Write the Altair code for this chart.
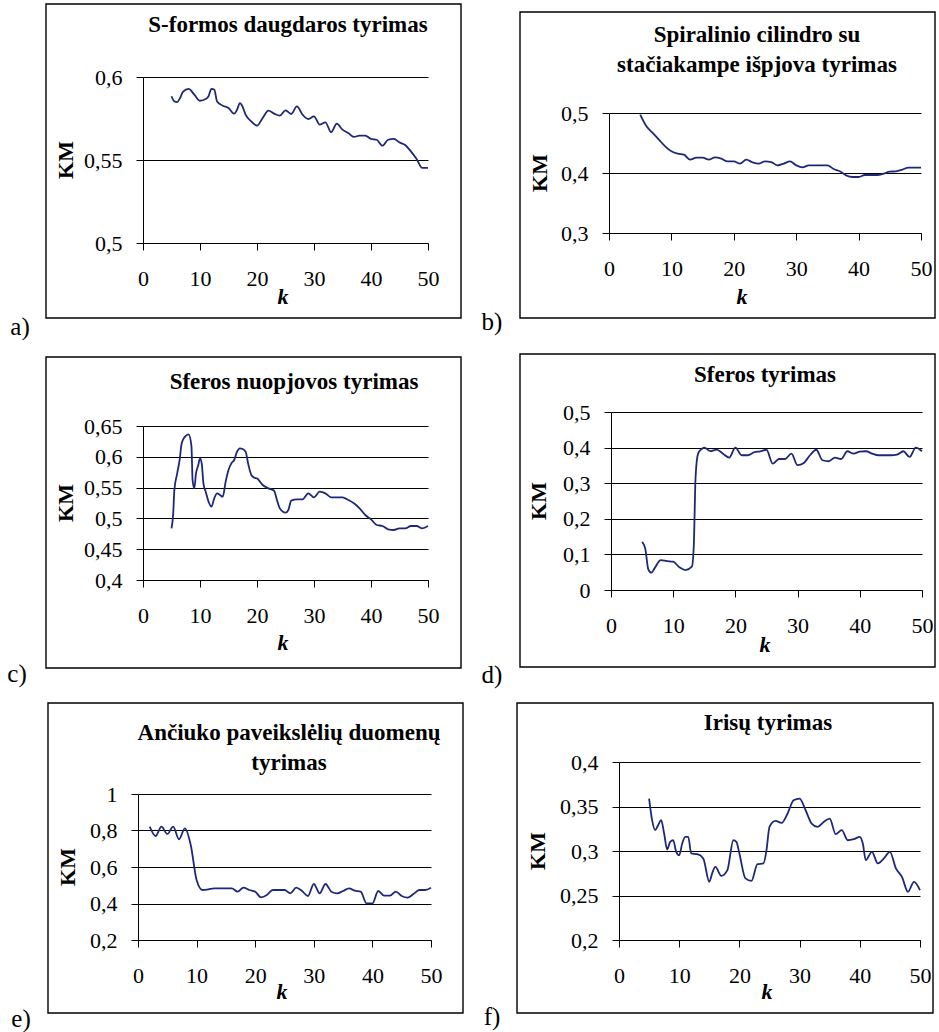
import altair as alt
import pandas as pd

FONT = "Liberation Serif"
LINE_COLOR = "#1f2878"

# ---------------- data ----------------
a_k = [5, 5.5, 6, 6.5, 7, 8, 9, 10, 11, 11.5, 12, 12.5, 13, 14, 15, 16, 16.5, 17, 17.5, 18, 19, 20,
       21, 22, 23, 24, 25, 26, 27, 28, 29, 30, 31, 32, 33, 34, 35, 36, 37, 38, 39, 40, 41, 42, 43,
       44, 45, 46, 47, 48, 49, 50]
a_v = [0.5884, 0.5853, 0.5849, 0.5873, 0.591, 0.5928, 0.5894, 0.5857, 0.5867, 0.5884, 0.5928, 0.5924,
       0.5853, 0.5827, 0.5813, 0.5779, 0.5803, 0.5843, 0.5819, 0.5773, 0.5733, 0.5707, 0.5753, 0.5797,
       0.5779, 0.5767, 0.5799, 0.5777, 0.5823, 0.5773, 0.5747, 0.5763, 0.5713, 0.5727, 0.5667, 0.5719,
       0.5683, 0.5663, 0.5639, 0.5647, 0.5647, 0.5627, 0.5622, 0.5586, 0.5622, 0.5627, 0.5606, 0.559,
       0.5552, 0.5506, 0.5452, 0.5452]

b_k = list(range(5, 51))
b_v = [0.4972, 0.4778, 0.4667, 0.4556, 0.4444, 0.4361, 0.4322, 0.4306, 0.4222, 0.4256, 0.4256, 0.4222,
       0.4261, 0.4239, 0.4194, 0.4194, 0.4156, 0.4222, 0.4178, 0.4156, 0.4194, 0.4183, 0.4128, 0.4156,
       0.4194, 0.4128, 0.4094, 0.4128, 0.4128, 0.4128, 0.4128, 0.4067, 0.4028, 0.3961, 0.3933, 0.3933,
       0.3967, 0.3967, 0.3967, 0.3989, 0.4022, 0.4028, 0.4056, 0.4089, 0.4089, 0.4089]

c_k = [5, 5.3, 5.5, 6, 6.5, 6.7, 7, 7.5, 8, 8.5, 8.7, 9, 9.3, 9.7, 10, 10.3, 10.6, 11, 11.5, 12, 12.5,
       13, 13.5, 14, 14.5, 15, 15.5, 16, 16.5, 17, 17.5, 18, 18.5, 19, 19.5, 20, 21, 22, 23, 23.5, 24,
       25, 25.5, 26, 27, 28, 29, 30, 31, 32, 33, 34, 35, 36, 37, 38, 39, 40, 41, 42, 43, 44, 45, 46,
       47, 48, 49, 50]
c_v = [0.4839, 0.508, 0.546, 0.5732, 0.600, 0.6175, 0.6273, 0.6338, 0.6365, 0.6175, 0.5622, 0.5488,
       0.573, 0.5867, 0.5975, 0.5894, 0.557, 0.5434, 0.5272, 0.519, 0.5326, 0.5407, 0.538, 0.5353,
       0.5596, 0.5786, 0.5894, 0.5948, 0.6083, 0.6137, 0.6127, 0.6083, 0.5867, 0.5705, 0.5661, 0.565,
       0.5542, 0.5488, 0.545, 0.5299, 0.5163, 0.5093, 0.5136, 0.5288, 0.531, 0.531, 0.5407, 0.5342,
       0.5434, 0.5407, 0.5342, 0.5342, 0.5342, 0.5299, 0.5245, 0.5163, 0.5055, 0.4985, 0.4893, 0.4877,
       0.4823, 0.4812, 0.4839, 0.4839, 0.4877, 0.4877, 0.4839, 0.4877]

d_k = [5, 5.5, 6, 6.5, 7, 8, 9, 10, 11, 12, 13, 13.3, 13.6, 14, 14.5, 15, 16, 17, 18, 19, 20, 21, 22,
       23, 24, 25, 26, 27, 28, 29, 30, 31, 32, 33, 34, 35, 36, 37, 38, 39, 40, 41, 42, 43, 44, 45, 46,
       47, 48, 49, 50]
d_v = [0.1355, 0.117, 0.058, 0.0486, 0.0607, 0.0841, 0.0813, 0.0794, 0.0636, 0.0561, 0.0654, 0.12,
       0.318, 0.383, 0.395, 0.400, 0.390, 0.3944, 0.383, 0.372, 0.400, 0.3785, 0.3785, 0.3869, 0.3897,
       0.394, 0.355, 0.368, 0.368, 0.383, 0.3505, 0.357, 0.3785, 0.394, 0.3645, 0.3617, 0.372, 0.368,
       0.3897, 0.383, 0.3888, 0.3897, 0.383, 0.3785, 0.3785, 0.3785, 0.3804, 0.3897, 0.3738, 0.400,
       0.3897]

e_k = list(range(2, 51))
e_v = [0.821, 0.77, 0.821, 0.781, 0.821, 0.752, 0.812, 0.7205, 0.5288, 0.474, 0.4776, 0.483, 0.483,
       0.483, 0.483, 0.4648, 0.4867, 0.474, 0.4648, 0.4338, 0.4466, 0.474, 0.474, 0.474, 0.4557,
       0.4867, 0.4685, 0.4411, 0.5068, 0.4557, 0.5068, 0.4648, 0.4557, 0.4685, 0.483, 0.4703, 0.4648,
       0.4009, 0.4009, 0.4685, 0.443, 0.443, 0.4648, 0.4411, 0.432, 0.452, 0.474, 0.474, 0.4867]

f_k = [5, 5.5, 6, 6.5, 7, 7.5, 8, 8.5, 9, 9.5, 10, 10.5, 11, 11.5, 12, 13, 14, 15, 15.5, 16, 17, 18,
       19, 19.5, 20, 21, 22, 23, 24, 24.5, 25, 26, 27, 28, 29, 30, 31, 32, 33, 34, 35, 36, 37, 38, 39,
       40, 40.5, 41, 42, 43, 44, 45, 46, 47, 48, 49, 50]
f_v = [0.3589, 0.3346, 0.3234, 0.329, 0.3346, 0.3196, 0.3017, 0.3103, 0.3121, 0.2991, 0.2953, 0.3084,
       0.3159, 0.3159, 0.2972, 0.2964, 0.2916, 0.2654, 0.2755, 0.2822, 0.2721, 0.2785, 0.3121, 0.3103,
       0.2972, 0.2692, 0.2665, 0.2852, 0.2860, 0.3009, 0.3271, 0.3338, 0.3316, 0.3421, 0.357, 0.3589,
       0.3458, 0.3308, 0.3271, 0.3327, 0.3364, 0.3189, 0.3234, 0.3121, 0.3133, 0.3159, 0.3084, 0.2897,
       0.2991, 0.286, 0.2916, 0.2991, 0.2804, 0.271, 0.2542, 0.2654, 0.2561]

x_ticks = [0, 10, 20, 30, 40, 50]
a_ticks = [0.5, 0.55, 0.6]
b_ticks = [0.3, 0.4, 0.5]
c_ticks = [0.4, 0.45, 0.5, 0.55, 0.6, 0.65]
d_ticks = [0, 0.1, 0.2, 0.3, 0.4, 0.5]
e_ticks = [0.2, 0.4, 0.6, 0.8, 1]
f_ticks = [0.2, 0.25, 0.3, 0.35, 0.4]

titles = {
    "a": ["S-formos daugdaros tyrimas"],
    "b": ["Spiralinio cilindro su", "stačiakampe išpjova tyrimas"],
    "c": ["Sferos nuopjovos tyrimas"],
    "d": ["Sferos tyrimas"],
    "e": ["Ančiuko paveikslėlių duomenų", "tyrimas"],
    "f": ["Irisų tyrimas"],
}

LABEL_EXPR = "replace(format(datum.value, '.2~f'), '.', ',')"


def panel(k, v, yticks, title_lines, letter, L, col_ox):
    gx0, gy0, w, h = L["plot"]
    view_top = L.get("view_top", gy0)
    x0 = gx0 - col_ox      # plot left inside the column-aligned view
    y0 = gy0 - view_top    # plot top inside the row-aligned view

    def lx(x):
        return x - col_ox

    def ly(y):
        return y - view_top

    df = pd.DataFrame({"k": k, "v": v})
    one = alt.Data(values=[{"d": 0}])

    x = alt.X("k:Q",
              scale=alt.Scale(domain=[0, 50], range=[x0, x0 + w], nice=False, zero=False),
              axis=alt.Axis(values=x_ticks, title="", grid=False, labelPadding=18,
                            labelFlush=False, labelOverlap=False, format="d"))
    y = alt.Y("v:Q",
              scale=alt.Scale(domain=[yticks[0], yticks[-1]], range=[y0 + h, y0],
                              nice=False, zero=False),
              axis=alt.Axis(values=yticks, title="", grid=True, labelPadding=14,
                            labelFlush=False, labelOverlap=False, labelExpr=LABEL_EXPR,
                            offset=-x0))

    line = alt.Chart(df).mark_line(color=LINE_COLOR, strokeWidth=1.8,
                                   interpolate="monotone").encode(x=x, y=y)

    fx0, fy0, fx1, fy1 = L["frame"]
    frame = alt.Chart(one).mark_rect(opacity=0).encode(
        x=alt.value(lx(fx0)), x2=alt.value(lx(fx1)),
        y=alt.value(ly(fy0)), y2=alt.value(ly(fy1)))

    bx0, by0, bx1, by1 = L["box"]
    box = alt.Chart(one).mark_rect(fillOpacity=0, stroke="black", strokeWidth=1.4).encode(
        x=alt.value(lx(bx0)), x2=alt.value(lx(bx1)),
        y=alt.value(ly(by0)), y2=alt.value(ly(by1)))

    layers = [frame, box, line]

    tx, ty_list = L["title"]
    for text, ty in zip(title_lines, ty_list):
        layers.append(alt.Chart(one).mark_text(
            font=FONT, fontSize=23, fontWeight="bold", color="black",
            align="center", baseline="middle").encode(
            x=alt.value(lx(tx)), y=alt.value(ly(ty)), text=alt.value(text)))

    kmx, kmy = L["km"]
    layers.append(alt.Chart(one).mark_text(
        font=FONT, fontSize=22, fontWeight="bold", color="black", angle=270,
        align="center", baseline="middle").encode(
        x=alt.value(lx(kmx)), y=alt.value(ly(kmy)), text=alt.value("KM")))

    kx, ky = L["k"]
    layers.append(alt.Chart(one).mark_text(
        font=FONT, fontSize=22, fontWeight="bold", fontStyle="italic", color="black",
        align="center", baseline="middle").encode(
        x=alt.value(lx(kx)), y=alt.value(ly(ky)), text=alt.value("k")))

    labx, laby = L["letter"]
    layers.append(alt.Chart(one).mark_text(
        font=FONT, fontSize=25, color="black", align="center", baseline="middle").encode(
        x=alt.value(lx(labx)), y=alt.value(ly(laby)), text=alt.value(letter + ")")))

    return alt.layer(*layers).properties(width=x0 + w, height=y0 + h)


# global pixel layout: plot=(left, top, width, height)
LAYOUT = {
    "a": dict(plot=(143, 77, 285, 166), frame=(0, 0, 470, 345), box=(46, 4, 461, 318),
              title=(288, [25]), km=(66, 160), k=(283, 297), letter=(20, 327)),
    "b": dict(plot=(609, 113, 312, 120), view_top=77, frame=(470, 0, 939, 345),
              box=(520, 12, 935, 318),
              title=(757, [35, 65]), km=(540, 173), k=(742, 297), letter=(492, 322)),
    "c": dict(plot=(143, 426, 285, 154), frame=(0, 345, 470, 695), box=(46, 357, 461, 668),
              title=(294, [382]), km=(66, 503), k=(283, 643), letter=(17, 674)),
    "d": dict(plot=(611, 412, 311, 178), frame=(470, 345, 939, 695), box=(520, 354, 935, 667),
              title=(765, [375]), km=(539, 501), k=(765, 645), letter=(492, 675)),
    "e": dict(plot=(138, 794, 293, 146), frame=(0, 695, 470, 1032), box=(48, 703, 463, 1013),
              title=(289, [733, 763]), km=(68, 867), k=(282, 992), letter=(21, 1019)),
    "f": dict(plot=(619, 762, 301, 178), frame=(470, 695, 939, 1032), box=(517, 703, 933, 1013),
              title=(768, [723]), km=(538, 851), k=(767, 992), letter=(492, 1017)),
}

COL1_OX = 138
COL2_OX = 609

pa = panel(a_k, a_v, a_ticks, titles["a"], "a", LAYOUT["a"], COL1_OX)
pb = panel(b_k, b_v, b_ticks, titles["b"], "b", LAYOUT["b"], COL2_OX)
pc = panel(c_k, c_v, c_ticks, titles["c"], "c", LAYOUT["c"], COL1_OX)
pd_ = panel(d_k, d_v, d_ticks, titles["d"], "d", LAYOUT["d"], COL2_OX)
pe = panel(e_k, e_v, e_ticks, titles["e"], "e", LAYOUT["e"], COL1_OX)
pf = panel(f_k, f_v, f_ticks, titles["f"], "f", LAYOUT["f"], COL2_OX)

chart = alt.hconcat(
    alt.vconcat(pa, pc, pe, spacing=0),
    alt.vconcat(pb, pd_, pf, spacing=0),
    spacing=0,
).properties(padding=0, background="white").configure_view(
    strokeWidth=0
).configure_axis(
    labelFont=FONT, labelFontSize=22, labelColor="black",
    domainColor="black", tickColor="black", gridColor="black",
    tickSize=7, domainWidth=1, tickWidth=1, gridWidth=1, gridOpacity=1,
)

chart.save("out.html", embed_options={"renderer": "svg", "actions": False})
